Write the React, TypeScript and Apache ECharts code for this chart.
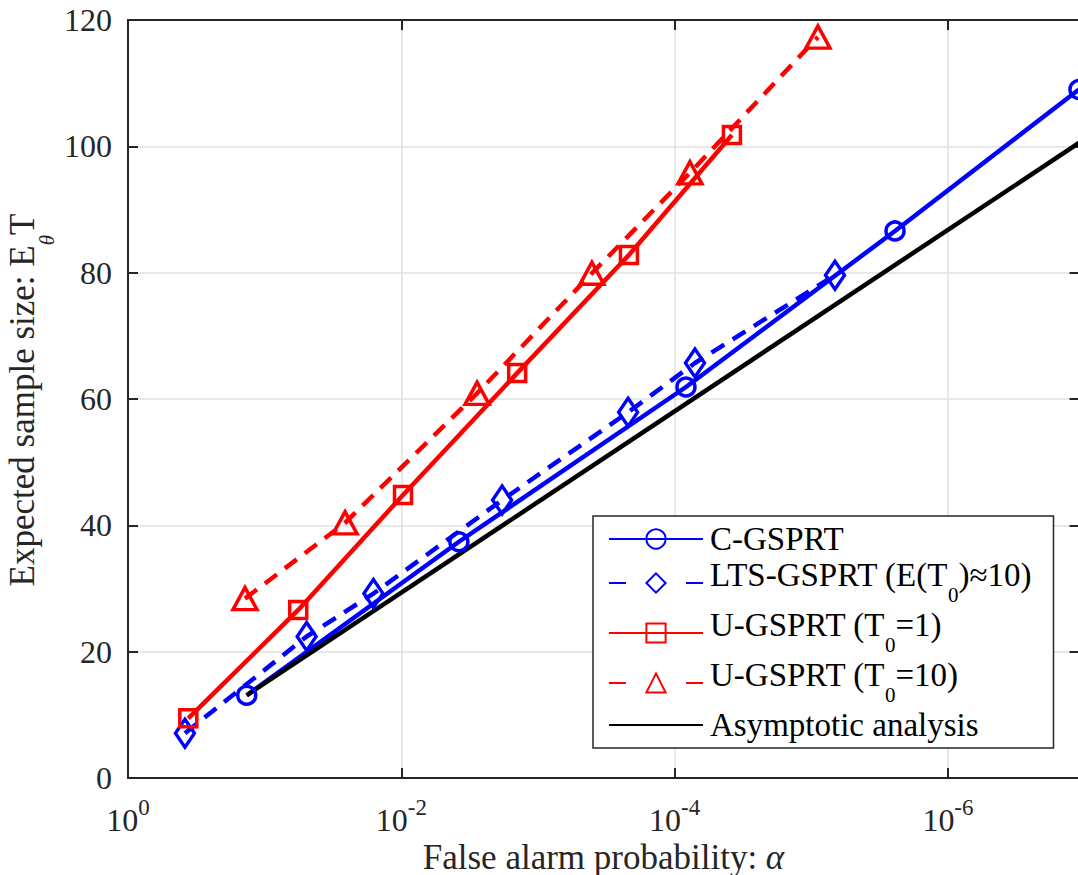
import React, { useEffect, useRef } from 'react';
import * as echarts from 'echarts';

// ---- data (alpha = false alarm probability, N = expected sample size)
const seriesNames = [
  'C-GSPRT',
  'LTS-GSPRT (E(T0)≈10)',
  'U-GSPRT (T0=1)',
  'U-GSPRT (T0=10)',
  'Asymptotic analysis',
];
const cgsprtAlpha = [0.1353, 3.79e-3, 8.26e-5, 2.44e-6, 1.1e-7];
const cgsprtN = [13.1, 37.4, 61.9, 86.6, 109.0];
const ltsAlpha = [0.383, 0.0493, 0.016, 1.83e-3, 2.19e-4, 7.1e-5, 6.71e-6];
const ltsN = [7.1, 22.4, 29.2, 44.0, 57.9, 65.7, 79.6];
const u1Alpha = [0.362, 0.0568, 9.72e-3, 1.42e-3, 2.16e-4, 3.81e-5];
const u1N = [9.45, 26.6, 44.8, 64.1, 82.8, 101.8];
const u10Alpha = [0.1393, 0.0258, 2.79e-3, 4.03e-4, 7.73e-5, 8.94e-6];
const u10N = [28.4, 40.4, 60.9, 79.9, 95.8, 117.3];
const asymAlpha = [0.1353, 1.09e-7];
const asymN = [13.1, 100.6];

const xTickValues = [1, 1e-2, 1e-4, 1e-6];
const X_MIN = 1.09e-7;
const X_MAX = 1;
const Y_MIN = 0;
const Y_MAX = 120;
const Y_INTERVAL = 20;

const FONT = "'Liberation Serif', 'Times New Roman', serif";
const AXIS_COLOR = '#262626';
const GRID_COLOR = '#e1e1e1';
const BLUE = '#0000ff';
const RED = '#ff0000';

const zip = (xs: number[], ys: number[]) => xs.map((x, i) => [x, ys[i]]);

const legendLabels: Record<string, string> = {
  'C-GSPRT': 'C-GSPRT',
  'LTS-GSPRT (E(T0)≈10)': '{m|LTS-GSPRT (E(T}{s|0}{m|)≈10)}',
  'U-GSPRT (T0=1)': '{m|U-GSPRT (T}{s|0}{m|=1)}',
  'U-GSPRT (T0=10)': '{m|U-GSPRT (T}{s|0}{m|=10)}',
  'Asymptotic analysis': 'Asymptotic analysis',
};

function buildOption(): any {
  const tickStyle = { color: AXIS_COLOR, width: 2 };
  const xCommon = {
    type: 'log',
    logBase: 10,
    min: X_MIN,
    max: X_MAX,
    inverse: true,
    axisLine: { show: true, onZero: false, lineStyle: { color: AXIS_COLOR, width: 2 } },
    axisTick: { show: true, inside: true, length: 10, lineStyle: tickStyle, customValues: xTickValues },
    minorTick: { show: false },
    minorSplitLine: { show: false },
  };
  const yCommon = {
    type: 'value',
    min: Y_MIN,
    max: Y_MAX,
    interval: Y_INTERVAL,
    axisLine: { show: true, onZero: false, lineStyle: { color: AXIS_COLOR, width: 2 } },
    axisTick: { show: true, inside: true, length: 10, lineStyle: tickStyle },
  };
  const lineSeries = (
    name: string,
    data: number[][],
    color: string,
    symbol: string,
    symbolSize: any,
    dashed: boolean,
  ) => ({
    name,
    type: 'line',
    data,
    xAxisIndex: 0,
    yAxisIndex: 0,
    symbol,
    symbolSize,
    showSymbol: symbol !== 'none',
    silent: true,
    emphasis: { disabled: true },
    lineStyle: { color, width: 4.5, type: dashed ? [15, 10] : 'solid' },
    itemStyle: {
      color: 'rgba(0,0,0,0)',
      borderColor: symbol === 'none' ? 'rgba(0,0,0,0)' : color,
      borderWidth: symbol === 'none' ? 0 : 3.5,
    },
  });

  return {
    animation: false,
    backgroundColor: '#ffffff',
    grid: {
      left: 128,
      right: -1.5,
      top: 20,
      bottom: 97,
      containLabel: false,
      outerBoundsMode: 'none',
    },
    xAxis: [
      {
        ...xCommon,
        position: 'bottom',
        axisLabel: {
          show: true,
          customValues: xTickValues,
          margin: 18,
          color: AXIS_COLOR,
          fontFamily: FONT,
          fontSize: 32,
          formatter: (v: number) => `{b|10}{s|${Math.round(Math.log10(v))}}`,
          rich: {
            b: { fontFamily: FONT, fontSize: 32, color: AXIS_COLOR },
            s: { fontFamily: FONT, fontSize: 23, color: AXIS_COLOR, padding: [0, 0, 24, 0] },
          },
        },
        splitLine: { show: true, lineStyle: { color: GRID_COLOR, width: 1.5 } },
      },
      {
        ...xCommon,
        position: 'top',
        axisLabel: { show: false },
        splitLine: { show: false },
      },
    ],
    yAxis: [
      {
        ...yCommon,
        position: 'left',
        axisLabel: { show: true, margin: 16, color: AXIS_COLOR, fontFamily: FONT, fontSize: 32 },
        splitLine: { show: true, lineStyle: { color: GRID_COLOR, width: 1.5 } },
      },
      {
        ...yCommon,
        position: 'right',
        axisLabel: { show: false },
        splitLine: { show: false },
      },
    ],
    legend: {
      orient: 'vertical',
      left: 593,
      top: 516,
      padding: [6.5, 22, 6.5, 15],
      itemGap: 3,
      itemWidth: 94,
      itemHeight: 24,
      backgroundColor: '#ffffff',
      borderColor: AXIS_COLOR,
      borderWidth: 1.5,
      borderRadius: 0,
      selectedMode: false,
      formatter: (name: string) => legendLabels[name] ?? name,
      textStyle: {
        fontFamily: FONT,
        fontSize: 33,
        color: '#000000',
        padding: [0, 0, 0, 2],
        rich: {
          m: { fontFamily: FONT, fontSize: 33, color: '#000000', padding: [0, 0, 16, 0] },
          s: { fontFamily: FONT, fontSize: 21, color: '#000000', padding: [24, 0, 0, 0] },
        },
      },
      data: [
        { name: seriesNames[0] },
        { name: seriesNames[1], lineStyle: { type: [17, 60] } },
        { name: seriesNames[2] },
        { name: seriesNames[3], lineStyle: { type: [17, 60] } },
        { name: seriesNames[4] },
      ],
    },
    graphic: [
      {
        type: 'text',
        x: 22,
        y: 400,
        rotation: Math.PI / 2,
        silent: true,
        style: {
          text: 'Expected sample size: E{s|θ}T',
          fontFamily: FONT,
          fontSize: 35,
          fill: AXIS_COLOR,
          align: 'center',
          verticalAlign: 'middle',
          rich: {
            s: { fontFamily: FONT, fontSize: 21, fontStyle: 'italic', fill: AXIS_COLOR, padding: [50, 0, 0, 0] },
          },
        },
      },
      {
        type: 'text',
        x: 603.5,
        y: 857,
        silent: true,
        style: {
          text: 'False alarm probability: {i|α}',
          fontFamily: FONT,
          fontSize: 35,
          fill: AXIS_COLOR,
          align: 'center',
          verticalAlign: 'middle',
          rich: {
            i: { fontFamily: FONT, fontSize: 35, fontStyle: 'italic', fill: AXIS_COLOR },
          },
        },
      },
    ],
    series: [
      lineSeries(seriesNames[0], zip(cgsprtAlpha, cgsprtN), BLUE, 'circle', 18, false),
      lineSeries(seriesNames[1], zip(ltsAlpha, ltsN), BLUE, 'diamond', [19, 28], true),
      lineSeries(seriesNames[2], zip(u1Alpha, u1N), RED, 'rect', 17, false),
      lineSeries(seriesNames[3], zip(u10Alpha, u10N), RED, 'triangle', [24, 22], true),
      lineSeries(seriesNames[4], zip(asymAlpha, asymN), '#000000', 'none', 0, false),
    ],
  };
}

export default function App() {
  const ref = useRef<HTMLDivElement | null>(null);
  useEffect(() => {
    if (!ref.current) return;
    const chart = echarts.init(ref.current, undefined, { renderer: 'svg' });
    chart.setOption(buildOption());
    return () => {
      chart.dispose();
    };
  }, []);
  return (
    <div
      ref={ref}
      style={{ position: 'absolute', left: 0, top: 0, width: 1078, height: 875, background: '#fff' }}
    />
  );
}
